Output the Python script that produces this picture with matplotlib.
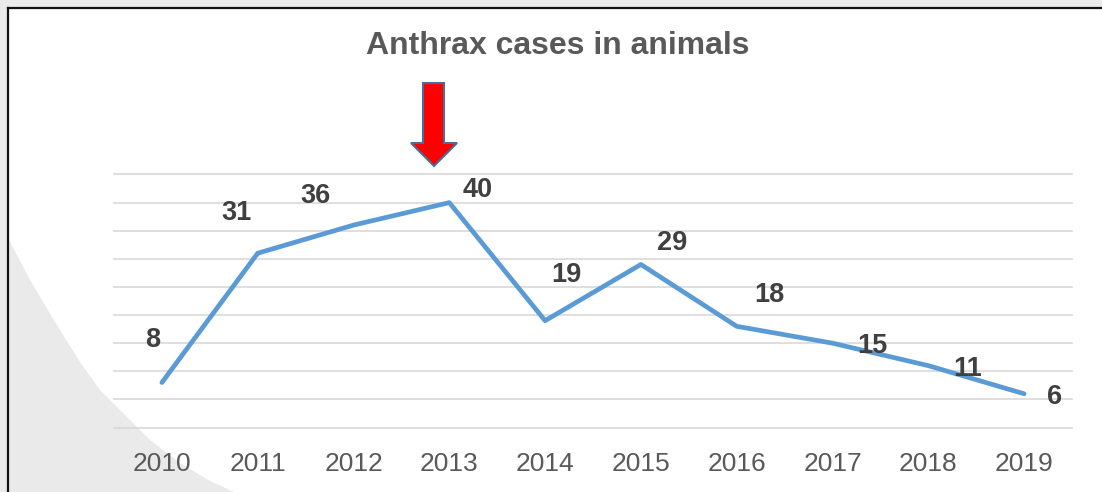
import matplotlib
matplotlib.use("Agg")
import matplotlib.pyplot as plt
from matplotlib.patches import Polygon
from matplotlib.lines import Line2D

plt.rcParams['font.family'] = ['Liberation Sans', 'DejaVu Sans']

# ---- data ----
years = ["2010", "2011", "2012", "2013", "2014", "2015", "2016", "2017", "2018", "2019"]
cases = [8, 31, 36, 40, 19, 29, 18, 15, 11, 6]
title = "Anthrax cases in animals"

# label offsets in pixels (dx right, dy up) - styling only
label_dx = [-9, -21, -38, 28, 21, 31, 33, 40, 39, 30]
label_dy = [43, 40, 29, 13, 46, 21, 31, -3, -3, -3]

W, H = 1102, 492
fig = plt.figure(figsize=(W / 100, H / 100), dpi=100, facecolor="white")

def fx(px):
    return px / W

def fy(py):
    return 1 - py / H

# background: outer grey strips and grey curved shape bottom-left
bg = fig.add_axes([0, 0, 1, 1], zorder=-10)
bg.set_xlim(0, W)
bg.set_ylim(H, 0)
bg.axis("off")
grey = "#eaeaea"
bg.add_patch(Polygon([(0, 0), (W, 0), (W, 7), (0, 7)], closed=True, fc=grey, ec="none"))
bg.add_patch(Polygon([(0, 0), (7, 0), (7, H), (0, H)], closed=True, fc=grey, ec="none"))
curve = [(8, 238), (30, 280), (55, 322), (80, 362), (100, 390), (120, 410),
         (150, 440), (180, 463), (210, 481), (234, 492), (8, 492)]
bg.add_patch(Polygon(curve, closed=True, fc=grey, ec="none"))
bg.add_line(Line2D([7.5, 7.5], [7.5, H], color="#111111", lw=1.6))
bg.add_line(Line2D([7.5, W], [7.5, 7.5], color="#111111", lw=1.6))

# main axes
ax = fig.add_axes([fx(114), fy(427.5), (1072 - 114) / W, (427.5 - 174.5) / H])
ax.set_facecolor("none")
x = list(range(len(years)))
ax.plot(x, cases, color="#5b9bd5", lw=3.4, solid_capstyle="round",
        solid_joinstyle="round", zorder=3)
ax.set_xlim(-0.5, len(years) - 0.5)
ax.set_ylim(0, 45)
ax.set_yticks(range(0, 46, 5))
ax.yaxis.grid(True, color="#d9d9d9", lw=1.2)
for gl in ax.get_ygridlines():
    gl.set_clip_on(False)
ax.set_axisbelow(True)
ax.tick_params(axis="y", left=False, labelleft=False)
ax.set_xticks(x)
ax.set_xticklabels(years)
ax.tick_params(axis="x", bottom=False, pad=14, labelsize=19, labelcolor="#595959")
for s in ax.spines.values():
    s.set_visible(False)

for xi, v, dx, dy in zip(x, cases, label_dx, label_dy):
    ax.annotate(str(v), (xi, v), xytext=(dx, dy), textcoords="offset pixels",
                ha="center", va="center", fontsize=19.5, fontweight="bold",
                color="#404040", zorder=4)

# title
fig.text(fx(558), fy(46.5), title, ha="center", va="center", fontsize=23,
         fontweight="bold", color="#595959")

# red arrow
arrow = [(423, 83), (444, 83), (444, 143), (457, 143), (434, 166), (411, 143), (423, 143)]
bg.add_patch(Polygon(arrow, closed=True, fc="#ff0000", ec="#41719c", lw=1.5, zorder=5))

fig.savefig("out.png", dpi=100, facecolor=fig.get_facecolor())
